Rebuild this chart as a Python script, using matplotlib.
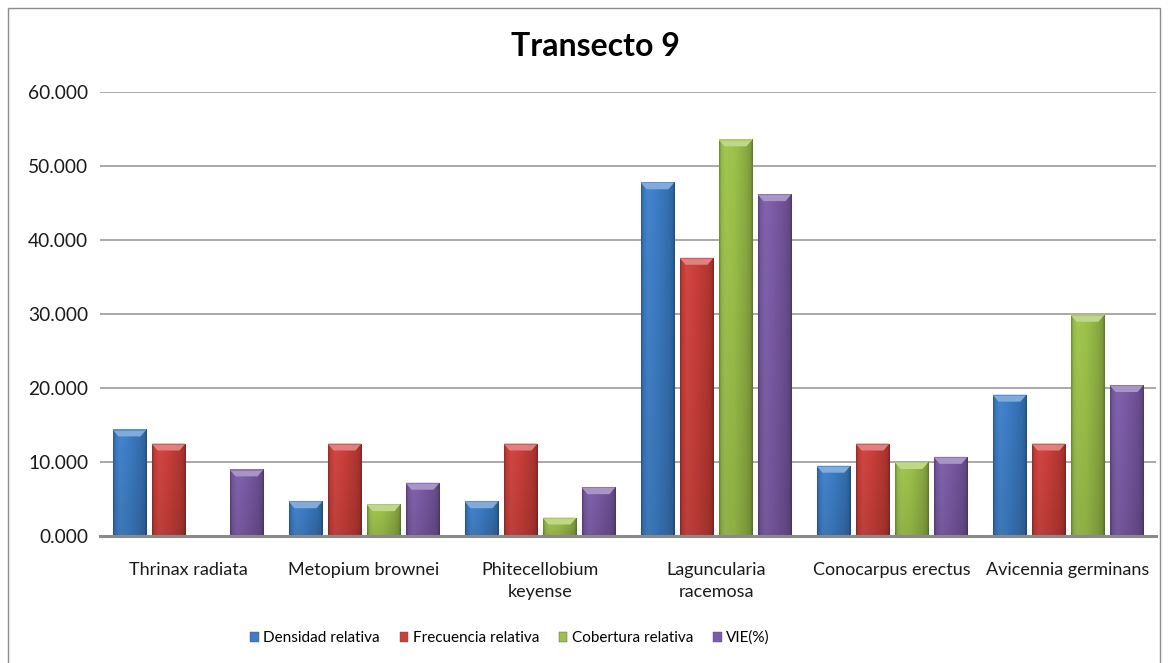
import numpy as np
import matplotlib
matplotlib.use("Agg")
import matplotlib.pyplot as plt
from matplotlib.patches import Rectangle, Polygon
from matplotlib.colors import to_rgb

# ---- data -------------------------------------------------------------
species = ["Thrinax radiata", "Metopium brownei", "Phitecellobium\nkeyense",
           "Laguncularia\nracemosa", "Conocarpus erectus", "Avicennia germinans"]
densidad = [14.4, 4.7, 4.7, 47.8, 9.5, 19.1]
frecuencia = [12.5, 12.5, 12.5, 37.6, 12.5, 12.5]
cobertura = [0.0, 4.3, 2.5, 53.6, 10.0, 29.9]
vie = [9.0, 7.2, 6.6, 46.2, 10.7, 20.4]
series_names = ["Densidad relativa", "Frecuencia relativa", "Cobertura relativa", "VIE(%)"]
y_ticks = [0, 10, 20, 30, 40, 50, 60]
title = "Transecto 9"

series_values = [densidad, frecuencia, cobertura, vie]
base_colors = ["#3C7EC8", "#CC3F3A", "#9DC24A", "#7B5BA7"]

# ---- figure -----------------------------------------------------------
W, H, DPI = 1173, 663, 100
plt.rcParams["font.family"] = ["Lato", "DejaVu Sans"]
fig = plt.figure(figsize=(W / DPI, H / DPI), dpi=DPI)
fig.patch.set_facecolor("white")

# outer chart frame (open at the bottom)
fig.patches.append(Rectangle((8 / W, -0.05), (1160 - 8) / W, 1 - 8 / H + 0.05,
                             transform=fig.transFigure, fill=False,
                             edgecolor="#8C8C8C", linewidth=1.0))

ax_l, ax_r, ax_t, ax_b = 100, 1156, 92, 536
ax = fig.add_axes([ax_l / W, 1 - ax_b / H, (ax_r - ax_l) / W, (ax_b - ax_t) / H])

n_cat = len(species)
x = np.arange(n_cat)
bar_w = 0.193
pitch = 0.2216
ymax = 60

# data units per pixel, for the bevel geometry
px_x = n_cat / (ax_r - ax_l)
px_y = ymax / (ax_b - ax_t)


def shade(rgb, f):
    rgb = np.array(rgb)
    if f >= 1:
        return rgb + (1 - rgb) * (f - 1)
    return rgb * f


# horizontal shading profile across a bar
prof_t = np.linspace(0, 1, 48)
prof_f = np.interp(prof_t, [0, 0.06, 0.2, 0.45, 0.8, 0.94, 1.0],
                   [0.72, 0.95, 1.05, 1.0, 0.88, 0.8, 0.62])

for k, (vals, col) in enumerate(zip(series_values, base_colors)):
    rgb = to_rgb(col)
    offs = (k - 1.5) * pitch
    bars = ax.bar(x + offs, vals, width=bar_w, color=col, zorder=3,
                  linewidth=0, label=series_names[k])
    for b in bars:
        h = b.get_height()
        if h <= 0:
            continue
        x0 = b.get_x()
        w = b.get_width()
        # cylinder-like shading
        vert = np.linspace(0.9, 1.0, 30)[:, None]
        img = np.zeros((30, len(prof_t), 3))
        for i, f in enumerate(prof_f):
            img[:, i, :] = shade(rgb, f)
        img = img * vert[:, :, None]
        im = ax.imshow(np.clip(img, 0, 1), extent=(x0, x0 + w, 0, h),
                       origin="lower", aspect="auto", zorder=3.1,
                       interpolation="bilinear")
        im.set_clip_path(b)
        # bevelled top face
        bh = 7 * px_y
        bi = 6 * px_x
        top = Polygon([(x0, h), (x0 + w, h), (x0 + w - bi, h - bh), (x0 + bi, h - bh)],
                      closed=True, facecolor=shade(rgb, 1.35), edgecolor="none",
                      zorder=3.2)
        ax.add_patch(top)
        ax.add_patch(Polygon([(x0, h), (x0 + w, h), (x0 + w, h - 1.2 * px_y),
                              (x0, h - 1.2 * px_y)], closed=True,
                             facecolor=shade(rgb, 1.15), edgecolor="none", zorder=3.3))

ax.set_xlim(-0.5, n_cat - 0.5)
ax.set_ylim(0, ymax)

# gridlines and axis
ax.set_yticks(y_ticks)
ax.set_yticklabels([f"{v:.3f}" for v in y_ticks])
for v in y_ticks[1:]:
    ax.axhline(v, color="#A3A3A3", linewidth=1.3, zorder=1)
ax.axhline(0, color="#8A8A8A", linewidth=2.2, zorder=4, clip_on=False)
for s in ax.spines.values():
    s.set_visible(False)

ax.set_xticks(x)
ax.set_xticklabels(species, fontsize=13, color="#1A1A1A", linespacing=1.4)
ax.tick_params(axis="x", length=0, pad=19)
ax.tick_params(axis="y", length=0, pad=8.5, labelsize=13.8, labelcolor="#1A1A1A")

fig.text(595 / W, 1 - 46 / H, title, ha="center", va="center",
         fontsize=23, fontweight="bold", color="black")

leg = fig.legend(loc="center", bbox_to_anchor=(510 / W, 1 - 638 / H), ncol=4,
                 frameon=False, fontsize=11, handlelength=0.55, handleheight=0.6,
                 handletextpad=0.3, columnspacing=1.3)
for p in leg.get_patches():
    p.set_edgecolor("#555555")
    p.set_linewidth(0.3)

fig.savefig("out.png", dpi=DPI, facecolor="white")
